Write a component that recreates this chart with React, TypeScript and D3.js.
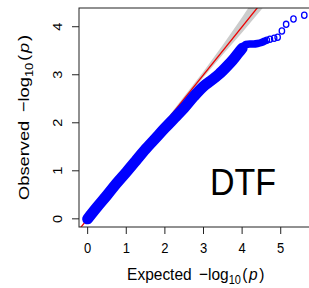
import React, { useEffect, useRef } from "react";
import * as d3 from "d3";

// dense part of the QQ curve (expected, observed)
const denseExpected = [0, 0.25, 0.5, 0.75, 1.0, 1.25, 1.5, 1.75, 2.0, 2.25, 2.5, 2.75, 3.0, 3.2, 3.4, 3.6, 3.75, 3.9, 4.0, 4.05, 4.1, 4.2, 4.3, 4.4, 4.5, 4.58];
const denseObserved = [0, 0.25, 0.49, 0.74, 0.97, 1.21, 1.45, 1.67, 1.89, 2.1, 2.31, 2.55, 2.76, 2.88, 3.01, 3.17, 3.3, 3.45, 3.55, 3.6, 3.63, 3.64, 3.64, 3.65, 3.67, 3.7];

// sparse tail points
const tailExpected = [4.64, 4.72, 4.83, 4.92, 5.03, 5.14, 5.33, 5.61];
const tailObserved = [3.72, 3.74, 3.76, 3.78, 3.91, 4.05, 4.16, 4.24];

// confidence band
const ciExpected = [0, 1, 2, 2.5, 3, 3.5, 4, 4.5, 5, 5.6];
const ciUpper = [0.01, 1.01, 2.03, 2.55, 3.07, 3.62, 4.2, 4.8, 5.45, 6.2];
const ciLower = [0, 0.99, 1.98, 2.47, 2.95, 3.42, 3.88, 4.36, 4.8, 5.3];

const xTicks = [0, 1, 2, 3, 4, 5];
const yTicks = [0, 1, 2, 3, 4];

const FONT = "'Liberation Sans', Arial, Helvetica, sans-serif";
const SY = 1.12; // the picture is a little stretched vertically

const App = () => {
  const svgRef = useRef<SVGSVGElement | null>(null);

  useEffect(() => {
    if (!svgRef.current) return;
    const svg = d3.select(svgRef.current);
    svg.selectAll("*").remove();

    const left = 79, right = 312.4, top = 8, bottom = 227;
    const x = d3.scaleLinear().domain([-0.224, 5.82]).range([left, right]);
    const y = d3.scaleLinear().domain([-0.17, 4.39]).range([bottom, top]);

    svg.append("defs").append("clipPath").attr("id", "plotclip")
      .append("rect").attr("x", left).attr("y", top)
      .attr("width", right - left).attr("height", bottom - top);

    const plot = svg.append("g").attr("clip-path", "url(#plotclip)");

    // confidence band
    const ci = ciExpected.map((e, i) => ({ e, lo: ciLower[i], hi: ciUpper[i] }));
    const area = d3.area<{ e: number; lo: number; hi: number }>()
      .x((d) => x(d.e)).y0((d) => y(d.lo)).y1((d) => y(d.hi));
    plot.append("path").datum(ci).attr("d", area).attr("fill", "#cccccc");

    // y = x line
    plot.append("line")
      .attr("x1", x(-1)).attr("y1", y(-1))
      .attr("x2", x(7)).attr("y2", y(7))
      .attr("stroke", "#ee0000").attr("stroke-width", 1.3);

    // dense points, overlapping so much they read as a solid band
    const dense = denseExpected.map((e, i) => [e, denseObserved[i]] as [number, number]);
    const line = d3.line<[number, number]>()
      .x((d) => x(d[0])).y((d) => y(d[1]))
      .curve(d3.curveMonotoneX);
    const split = denseExpected.indexOf(4.0);
    // the diagonal run is wider than the flat shoulder
    plot.append("path").datum(dense.slice(0, split + 1)).attr("d", line)
      .attr("fill", "none").attr("stroke", "#0000ff")
      .attr("stroke-width", 11).attr("stroke-linecap", "round")
      .attr("stroke-linejoin", "round");
    plot.append("path").datum(dense.slice(split - 1)).attr("d", line)
      .attr("fill", "none").attr("stroke", "#0000ff")
      .attr("stroke-width", 7.5).attr("stroke-linecap", "round")
      .attr("stroke-linejoin", "round");

    const tail = tailExpected.map((e, i) => [e, tailObserved[i]] as [number, number]);
    plot.selectAll("ellipse.tail").data(tail).enter().append("ellipse")
      .attr("cx", (d) => x(d[0])).attr("cy", (d) => y(d[1]))
      .attr("rx", 2.7).attr("ry", 3.1)
      .attr("fill", "none").attr("stroke", "#0000ff").attr("stroke-width", 1.3);

    // box
    svg.append("rect").attr("x", left).attr("y", top)
      .attr("width", right - left).attr("height", bottom - top)
      .attr("fill", "none").attr("stroke", "#222").attr("stroke-width", 1);

    // x axis
    const xa = svg.append("g");
    xa.selectAll("line").data(xTicks).enter().append("line")
      .attr("x1", (d) => x(d)).attr("x2", (d) => x(d))
      .attr("y1", bottom).attr("y2", bottom + 7)
      .attr("stroke", "#222");
    xa.selectAll("text").data(xTicks).enter().append("text")
      .attr("transform", (d) => `translate(${x(d)},253) scale(1,${SY})`)
      .attr("text-anchor", "middle")
      .style("font-family", FONT).style("font-size", "13px")
      .text((d) => d);

    // y axis
    const ya = svg.append("g");
    ya.selectAll("line").data(yTicks).enter().append("line")
      .attr("x1", left - 7).attr("x2", left)
      .attr("y1", (d) => y(d)).attr("y2", (d) => y(d))
      .attr("stroke", "#222");
    ya.selectAll("text").data(yTicks).enter().append("text")
      .attr("transform", (d) => `translate(62,${y(d)}) scale(1,${SY}) rotate(-90)`)
      .attr("text-anchor", "middle")
      .style("font-family", FONT).style("font-size", "13px")
      .text((d) => d);

    // axis titles
    const title = (g: any, word: string) => {
      g.append("tspan").text(word + " ");
      g.append("tspan").attr("dx", 3).text("\u2212log");
      g.append("tspan").attr("dy", 4).style("font-size", "11px").text("10");
      g.append("tspan").attr("dy", -4).attr("dx", 1.5).text("(");
      g.append("tspan").attr("dx", 1.5).style("font-style", "italic").text("p");
      g.append("tspan").attr("dx", 1.5).text(")");
    };
    const xt = svg.append("text")
      .attr("transform", `translate(${(left + right) / 2},280) scale(1,${SY})`)
      .attr("text-anchor", "middle")
      .style("font-family", FONT).style("font-size", "15.5px");
    title(xt, "Expected");
    const yt = svg.append("text")
      .attr("transform", `translate(29,${(top + bottom) / 2}) scale(1,1.18) rotate(-90)`)
      .attr("text-anchor", "middle")
      .style("font-family", FONT).style("font-size", "15.5px");
    title(yt, "Observed");

    svg.append("text")
      .attr("transform", `translate(243,195) scale(1,1.1)`)
      .attr("text-anchor", "middle")
      .style("font-family", FONT).style("font-size", "34px")
      .text("DTF");
  }, []);

  return (
    <div style={{ position: "absolute", left: 0, top: 0, width: 309, height: 288, background: "#fff" }}>
      <svg ref={svgRef} width={309} height={288} style={{ display: "block" }} />
    </div>
  );
};

export default App;
